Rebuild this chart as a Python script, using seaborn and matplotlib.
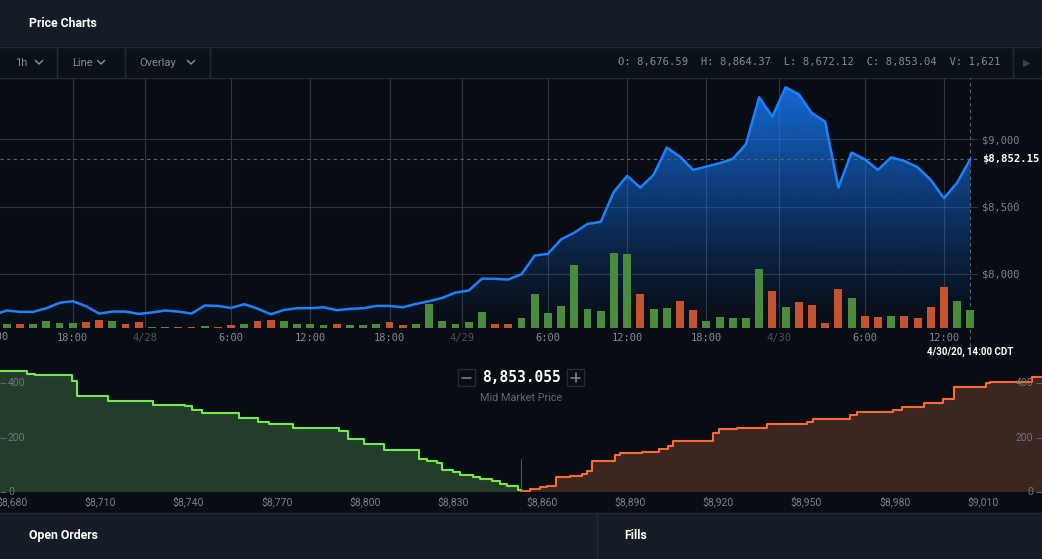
import numpy as np
import matplotlib
matplotlib.use("Agg")
import matplotlib.pyplot as plt
import matplotlib.transforms as mtrans
from matplotlib.patches import Rectangle
import seaborn as sns

# ---- price chart data (hours counted from 4/27 00:00, CDT) ----
price_hours = list(range(12, 87))
close_price = [
    7695, 7728, 7718, 7718, 7745, 7785, 7797, 7760, 7705, 7720,
    7720, 7703, 7713, 7728, 7720, 7705, 7765, 7762, 7747, 7775,
    7742, 7700, 7732, 7745, 7745, 7752, 7730, 7740, 7745, 7762,
    7762, 7752, 7777, 7797, 7822, 7861, 7876, 7965, 7963, 7958,
    7998, 8136, 8149, 8257, 8306, 8371, 8386, 8611, 8728, 8641,
    8735, 8938, 8871, 8772, 8797, 8822, 8854, 8963, 9312, 9168,
    9386, 9334, 9193, 9131, 8641, 8901, 8851, 8772, 8866, 8839,
    8792, 8698, 8562, 8678, 8852.15,
]
vol_hours = list(range(13, 87))
volume = [
    395, 395, 395, 670, 490, 490, 580, 760, 670, 395,
    580, 120, 120, 120, 120, 210, 120, 300, 395, 670,
    760, 670, 395, 395, 300, 395, 300, 300, 395, 580,
    300, 395, 2160, 670, 395, 580, 1500, 395, 395, 945,
    3150, 1405, 1990, 5730, 1715, 1590, 6830, 6740, 3160, 1715,
    1860, 2505, 1680, 670, 1040, 945, 945, 5360, 3350, 1955,
    2415, 2140, 490, 3615, 2790, 1130, 1040, 1130, 1130, 945,
    1955, 3800, 2505, 1621,
]
# G = up candle, R = down candle
candle_dir = ("GRGGGGRRGR" "RGGRRGRRGR" "RGGGGRGGGR" "RGGGGGGRRG"
              "GGGGGGGGRG" "GRRGGGGGRG" "RRRRGRRGRR" "RRGG")

time_ticks = [18, 23.5, 30, 36, 42, 47.5, 54, 60, 66, 71.5, 78, 84]
time_labels = ["18:00", "4/28", "6:00", "12:00", "18:00", "4/29",
               "6:00", "12:00", "18:00", "4/30", "6:00", "12:00"]
price_ticks = [8000, 8500, 9000]
price_labels = ["$8,000", "$8,500", "$9,000"]
last_price = 8852.15

# ---- depth chart data ----
mid_price = 8853.055
# upper edge of each bid band (descending) and cumulative size in the band
bid_price = [8853.06, 8852.0, 8848.1, 8845.9, 8843.0, 8839.1, 8836.8, 8832.3,
             8830.0, 8826.1, 8824.4, 8821.0, 8818.5, 8806.6, 8799.8, 8794.1,
             8791.3, 8775.7, 8767.5, 8763.8, 8757.3, 8750.2, 8744.7, 8741.1,
             8738.9, 8727.9, 8712.8, 8702.3, 8700.4, 8687.9, 8685.1, 8676.0]
bid_depth = [10, 23.2, 29.3, 42.7, 50, 54.8, 64.6, 73.1,
             80.4, 108.5, 114.6, 123, 153.6, 175.5, 193.8, 225.5,
             235, 250, 258.4, 273, 289, 291.3, 301, 315.7,
             320.5, 335, 353.5, 408, 429, 431.5, 443.6, 443.6]
# lower edge of each ask band (ascending) and cumulative size in the band
ask_price = [8853.06, 8853.5, 8856.1, 8859.4, 8862.0, 8864.9, 8869.6, 8873.6,
             8875.3, 8877.0, 8884.9, 8886.6, 8894.0, 8900.0, 8903.0, 8904.7,
             8918.1, 8920.4, 8926.3, 8936.5, 8950.0, 8952.3, 8964.7, 8967.0,
             8979.3, 8982.3, 8990.0, 8996.2, 9000.2, 9010.9, 9012.3, 9026.5, 9030.0]
ask_depth = [0, 6, 12, 18, 24, 54.8, 59.7, 65.8,
             78, 115.8, 136.5, 142.6, 147.5, 158.4, 169.4, 189,
             218.2, 231.6, 234, 249.9, 256, 269.4, 282.8, 293.7,
             301, 312, 327.9, 341.3, 386.4, 398.5, 402.2, 420.5, 420.5]
depth_ticks = [8680, 8710, 8740, 8770, 8800, 8830, 8860, 8890, 8920, 8950, 8980, 9010]
depth_labels = ["$8,680", "$8,710", "$8,740", "$8,770", "$8,800", "$8,830",
                "$8,860", "$8,890", "$8,920", "$8,950", "$8,980", "$9,010"]
size_ticks = [0, 200, 400]

ohlc_text = "O: 8,676.59  H: 8,864.37  L: 8,672.12  C: 8,853.04  V: 1,621"

# ---- style ----
sns.set_style("dark")
plt.rcParams['font.family'] = ['Roboto', 'DejaVu Sans']
MONO = 'DejaVu Sans Mono'

HEADER_BG = '#141c25'
TOOLBAR_BG = '#0b1118'
CHART_BG = '#080d14'
BORDER = '#232b34'
GRID = '#2c333c'
TXT = '#858b93'
DIM = '#4d545c'
BLUE = '#1a82ff'
GREEN_BAR = '#4b8b3e'
RED_BAR = '#c5532f'

W, H = 1042, 559
fig = plt.figure(figsize=(W / 100, H / 100), dpi=100)
fig.patch.set_facecolor(CHART_BG)

# background layer in pixel coordinates
bg = fig.add_axes([0, 0, 1, 1], zorder=-5)
bg.set_xlim(0, W)
bg.set_ylim(H, 0)
bg.axis('off')
bg.add_patch(Rectangle((0, 0), W, 46, color=HEADER_BG, lw=0))
bg.add_patch(Rectangle((0, 47), W, 30, color=TOOLBAR_BG, lw=0))
bg.add_patch(Rectangle((0, 78), W, 434, color=CHART_BG, lw=0))
bg.add_patch(Rectangle((0, 513), W, 46, color=HEADER_BG, lw=0))
for yy in (46.5, 77.5, 512.5, 558.5):
    bg.plot([0, W], [yy, yy], color=BORDER, lw=1)
for xx in (56.5, 124.5, 209.5, 1012.5):
    bg.plot([xx, xx], [47, 77], color=BORDER, lw=1)
bg.plot([596.5, 596.5], [513, 559], color=BORDER, lw=1)

bg.text(29, 23.5, "Price Charts", color='white', fontsize=8.8, fontweight='bold', va='center')
bg.text(29, 535.5, "Open Orders", color='white', fontsize=8.8, fontweight='bold', va='center')
bg.text(624, 535.5, "Fills", color='white', fontsize=8.8, fontweight='bold', va='center')

for label, x0, cx in (("1h", 15, 39), ("Line", 72, 101), ("Overlay", 139, 191)):
    bg.text(x0, 62.5, label, color=TXT, fontsize=8, va='center')
    bg.plot([cx - 3.5, cx, cx + 3.5], [60.5, 64, 60.5], color=TXT, lw=1.1)
bg.text(1000, 62.5, ohlc_text, color=TXT, fontsize=7.6, family=MONO, ha='right', va='center')
bg.text(1027, 62.5, "\u25b6", color='#3b424a', fontsize=7, ha='center', va='center',
        family='DejaVu Sans')

# mid market widget
bg.add_patch(Rectangle((458, 369), 17, 17, fill=False, ec=BORDER, lw=1))
bg.add_patch(Rectangle((567, 369), 17, 17, fill=False, ec=BORDER, lw=1))
bg.plot([462, 471], [377.5, 377.5], color=TXT, lw=1.1)
bg.plot([571, 580], [377.5, 377.5], color=TXT, lw=1.1)
bg.plot([575.5, 575.5], [373, 382], color=TXT, lw=1.1)
bg.text(521.5, 378, f"{mid_price:,.3f}", color='white', fontsize=10.5, fontweight='bold',
        family=MONO, ha='center', va='center')
bg.text(521.5, 398, "Mid Market Price", color='#61676f', fontsize=7.8, ha='center', va='center')

# ---- price chart ----
ax = fig.add_axes([0, 231 / H, 978 / W, 250 / H])
ax.set_facecolor('none')
x0, x1 = 12.49, 86.58
y0, y1 = 7598, 9455
for s in ax.spines.values():
    s.set_visible(False)

grad = np.zeros((256, 1, 4))
t = np.linspace(0, 1, 256)
grad[:, 0, :3] = matplotlib.colors.to_rgb('#1676f0')
grad[:, 0, 3] = 0.92 * t ** 1.2
im = ax.imshow(grad, extent=[x0, x1, y0, y1], origin='lower', aspect='auto', zorder=1)
poly = ax.fill_between(price_hours, close_price, y0, facecolor='none', edgecolor='none')
im.set_clip_path(poly.get_paths()[0], ax.transData)

sns.lineplot(x=price_hours, y=close_price, ax=ax, color=BLUE, linewidth=1.8, zorder=4)

ax.set_xlim(x0, x1)
ax.set_ylim(y0, y1)
for p in price_ticks:
    ax.axhline(p, color=GRID, lw=0.8, zorder=0)
for tk in time_ticks:
    ax.axvline(tk, color='#30363e', lw=0.8, zorder=0)
ax.axhline(last_price, color='#5a6169', lw=0.8, ls=(0, (3, 3)), zorder=2)
ax.axvline(86, ymin=-0.07, ymax=1, color='#5a6169', lw=0.8, ls=(0, (3, 3)),
           clip_on=False, zorder=2)

# volume bars on a twin axis above the price fill
vax = ax.twinx()
vax.set_ylim(0, 22900)
vax.set_xlim(x0, x1)
bar_colors = [GREEN_BAR if d == 'G' else RED_BAR for d in candle_dir]
vax.bar(vol_hours, volume, width=0.6, color=bar_colors, linewidth=0, zorder=3)
vax.axis('off')

ax.set_axisbelow(False)
ax.yaxis.tick_right()
ax.set_yticks(price_ticks, price_labels, family=MONO)
ax.tick_params(axis='y', which='both', left=False, right=False, labelleft=False,
               labelright=True, length=0, pad=3, labelsize=7.5, labelcolor='#7d838b')
ax.set_xticks(time_ticks, time_labels, family=MONO)
ax.tick_params(axis='x', length=0, pad=3.5, labelsize=7.5, labelcolor='#858b93')
for lbl in ax.get_xticklabels():
    if '/' in lbl.get_text():
        lbl.set_color(DIM)
ax.set_xlabel('')
ax.set_ylabel('')
ax.grid(False)

blend = mtrans.blended_transform_factory(ax.transData, ax.transAxes)
ax.text(12, -0.036, "12:00", transform=blend, color='#858b93', fontsize=7.5, family=MONO,
        ha='center', va='center', clip_on=False)
ax.text(86, -0.095, "4/30/20, 14:00 CDT", transform=blend, color='white', fontsize=7,
        fontweight='bold', ha='center', va='center', clip_on=False)
ax.text(1.004, last_price, f"${last_price:,.2f}", transform=mtrans.blended_transform_factory(
        ax.transAxes, ax.transData), color='white', fontsize=7.6, fontweight='bold',
        family=MONO, va='center', ha='left', clip_on=False)

# ---- depth chart ----
dax = fig.add_axes([0, 66.7 / H, 1, 127.3 / H])
dax.set_facecolor('none')
for s in dax.spines.values():
    s.set_visible(False)
dax.set_xlim(8676.0, 9030.0)
dax.set_ylim(0, 465.4)

dax.fill_between(bid_price, bid_depth, 0, step='post', color='#223d29', lw=0, zorder=1)
dax.step(bid_price, bid_depth, where='post', color='#74e84c', lw=1.5, zorder=3)
dax.fill_between(ask_price, ask_depth, 0, step='post', color='#3b2621', lw=0, zorder=1)
dax.step(ask_price, ask_depth, where='post', color='#ff6a2e', lw=1.5, zorder=3)
dax.axvline(mid_price, ymin=0, ymax=0.26, color='#4f565e', lw=0.8, zorder=2)

dax.set_axisbelow(False)
dax.set_xticks(depth_ticks, depth_labels)
dax.tick_params(axis='x', length=0, pad=3, labelsize=7.5, labelcolor='#7a8088')
dax.set_yticks(size_ticks, [str(v) for v in size_ticks])
dax.tick_params(axis='y', which='both', left=True, right=True, labelleft=False,
                labelright=False, direction='in', length=4, width=0.8, color='#5c636b')
dax.grid(False)

# size labels drawn inside both edges
ytrans = mtrans.blended_transform_factory(dax.transAxes, dax.transData)
for v in size_ticks:
    dax.text(8 / W, v, str(v), transform=ytrans, color='#6f757d', fontsize=7.5,
             ha='left', va='center', zorder=5, clip_on=False)
    dax.text(1 - 9 / W, v, str(v), transform=ytrans, color='#6f757d', fontsize=7.5,
             ha='right', va='center', zorder=5, clip_on=False)

fig.savefig('out.png', dpi=100, facecolor=fig.get_facecolor())
